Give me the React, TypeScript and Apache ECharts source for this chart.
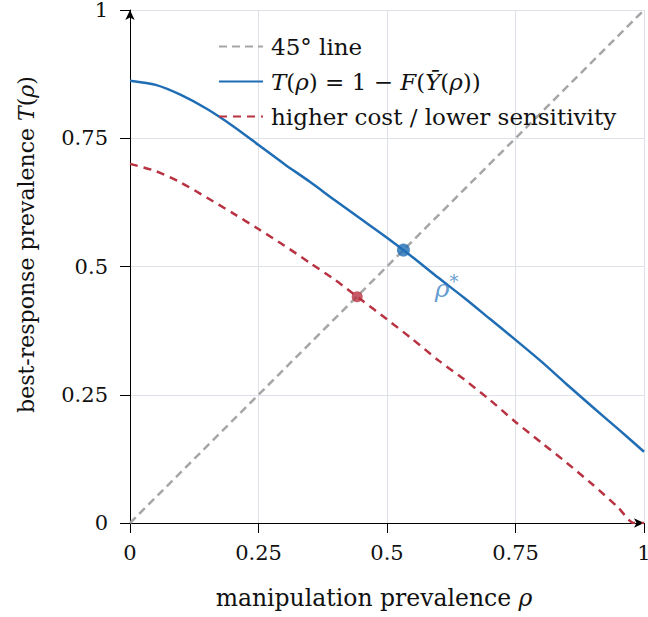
import React, { useEffect, useRef } from "react";
import * as echarts from "echarts";

const rhoGrid = [0, 0.05, 0.1, 0.15, 0.2, 0.25, 0.3, 0.35, 0.4, 0.45, 0.5, 0.55, 0.6, 0.65, 0.7, 0.75, 0.8, 0.85, 0.9, 0.95, 1];
const baselineT = [0.862, 0.854, 0.834, 0.807, 0.774, 0.737, 0.7, 0.665, 0.628, 0.592, 0.556, 0.518, 0.478, 0.439, 0.398, 0.357, 0.315, 0.27, 0.226, 0.183, 0.139];
const rhoGridAlt = [0, 0.05, 0.1, 0.15, 0.2, 0.25, 0.3, 0.35, 0.4, 0.45, 0.5, 0.55, 0.6, 0.65, 0.7, 0.75, 0.8, 0.85, 0.9, 0.95, 0.98, 1];
const altT = [0.7, 0.686, 0.663, 0.634, 0.604, 0.573, 0.541, 0.507, 0.473, 0.435, 0.397, 0.358, 0.317, 0.28, 0.24, 0.197, 0.157, 0.117, 0.075, 0.03, 0.0, 0.0];
const diagonal = [[0, 0], [1, 1]];
const fixedPointBase = [0.532, 0.532];
const fixedPointAlt = [0.442, 0.441];
const rhoStarLabelPos = [0.616, 0.458];

const FONT = "DejaVu Serif";
const BLUE = "#1f6db4";
const RED = "#b83241";
const GRAY = "#a6a6a6";

export default function App() {
  const ref = useRef<HTMLDivElement>(null);
  useEffect(() => {
    if (!ref.current) return;
    const chart = echarts.init(ref.current, undefined, { renderer: "svg" });
    const mk = (size: number, italicOn: boolean) => ({
      fontFamily: FONT,
      fontStyle: italicOn ? "italic" : "normal",
      fontSize: size,
      color: "#111",
    });
    chart.setOption({
      animation: false,
      backgroundColor: "#fff",
      grid: { left: 130, right: 4, top: 10, bottom: 94, containLabel: false, outerBoundsMode: "none" },
      legend: {
        orient: "vertical",
        left: 218,
        top: 33,
        padding: 0,
        itemWidth: 44,
        itemHeight: 14,
        itemGap: 8,
        itemStyle: { opacity: 0 },
        data: ["45° line", "T", "alt"],
        formatter: (name: string) => {
          if (name === "T") return "{i|T}{r|(}{i|ρ}{r|) = 1 − }{i|F}{r|(}{i|Ȳ}{r|(}{i|ρ}{r|))}";
          if (name === "alt") return "{r|higher cost / lower sensitivity}";
          return "{r|45° line}";
        },
        textStyle: {
          fontFamily: FONT,
          fontSize: 23,
          color: "#111",
          padding: [0, 0, 0, 3],
          lineHeight: 27,
          rich: { i: mk(23, true), r: mk(23, false) },
        },
      },
      xAxis: {
        type: "value",
        min: 0,
        max: 1,
        interval: 0.25,
        name: "{r|manipulation prevalence }{i|ρ}",
        nameLocation: "middle",
        nameGap: 63,
        nameTextStyle: { fontFamily: FONT, fontSize: 23.5, color: "#111", padding: [0, 26, 0, 0], rich: { i: mk(23.5, true), r: mk(23.5, false) } },
        axisLine: { show: true, symbol: ["none", "arrow"], symbolSize: [7, 10], lineStyle: { color: "#000", width: 1 } },
        axisTick: { show: true, inside: false, length: 10, lineStyle: { color: "#000" } },
        axisLabel: { fontFamily: FONT, fontSize: 21, color: "#111", margin: 19 },
        splitLine: { show: true, lineStyle: { color: "#dfe1e8", width: 1 } },
      },
      yAxis: {
        type: "value",
        min: 0,
        max: 1,
        interval: 0.25,
        name: "{r|best-response prevalence }{i|T}{r|(}{i|ρ}{r|)}",
        nameLocation: "middle",
        nameGap: 93,
        nameRotate: 90,
        nameTextStyle: { fontFamily: FONT, fontSize: 22, color: "#111", padding: [0, 0, 0, 44], rich: { i: mk(22, true), r: mk(22, false) } },
        axisLine: { show: true, symbol: ["none", "arrow"], symbolSize: [7, 10], lineStyle: { color: "#000", width: 1 } },
        axisTick: { show: true, inside: false, length: 10, lineStyle: { color: "#000" } },
        axisLabel: { fontFamily: FONT, fontSize: 21, color: "#111", margin: 22, verticalAlign: "middle" },
        splitLine: { show: true, lineStyle: { color: "#dfe1e8", width: 1 } },
      },
      series: [
        {
          name: "45° line",
          type: "line",
          data: diagonal,
          symbol: "none",
          lineStyle: { color: GRAY, width: 2.5, type: [8, 5] },
          itemStyle: { color: GRAY },
          z: 2,
        },
        {
          name: "T",
          type: "line",
          data: rhoGrid.map((x, i) => [x, baselineT[i]]),
          symbol: "none",
          smooth: 0.25,
          lineStyle: { color: BLUE, width: 2.5 },
          itemStyle: { color: BLUE },
          z: 3,
        },
        {
          name: "alt",
          type: "line",
          data: rhoGridAlt.map((x, i) => [x, altT[i]]),
          symbol: "none",
          smooth: 0.25,
          lineStyle: { color: RED, width: 2.5, type: [8, 6] },
          itemStyle: { color: RED },
          z: 3,
        },
        {
          name: "fixed-base",
          type: "scatter",
          data: [fixedPointBase],
          symbolSize: 13,
          itemStyle: { color: BLUE },
          z: 5,
        },
        {
          name: "fixed-alt",
          type: "scatter",
          data: [fixedPointAlt],
          symbolSize: 11,
          itemStyle: { color: RED },
          z: 5,
        },
        {
          name: "rho-star",
          type: "scatter",
          data: [rhoStarLabelPos],
          symbolSize: 0,
          silent: true,
          label: {
            show: true,
            position: "inside",
            formatter: "{r|ρ}{s|*}",
            rich: {
              r: { fontFamily: FONT, fontStyle: "italic", fontSize: 25, color: "#3b82c4" },
              s: { fontFamily: FONT, fontSize: 18, color: "#3b82c4", padding: [0, 0, 14, 0] },
            },
          },
          z: 6,
        },
      ],
    });
    return () => chart.dispose();
  }, []);
  return <div ref={ref} style={{ position: "absolute", left: 0, top: 0, width: 648, height: 617 }} />;
}
